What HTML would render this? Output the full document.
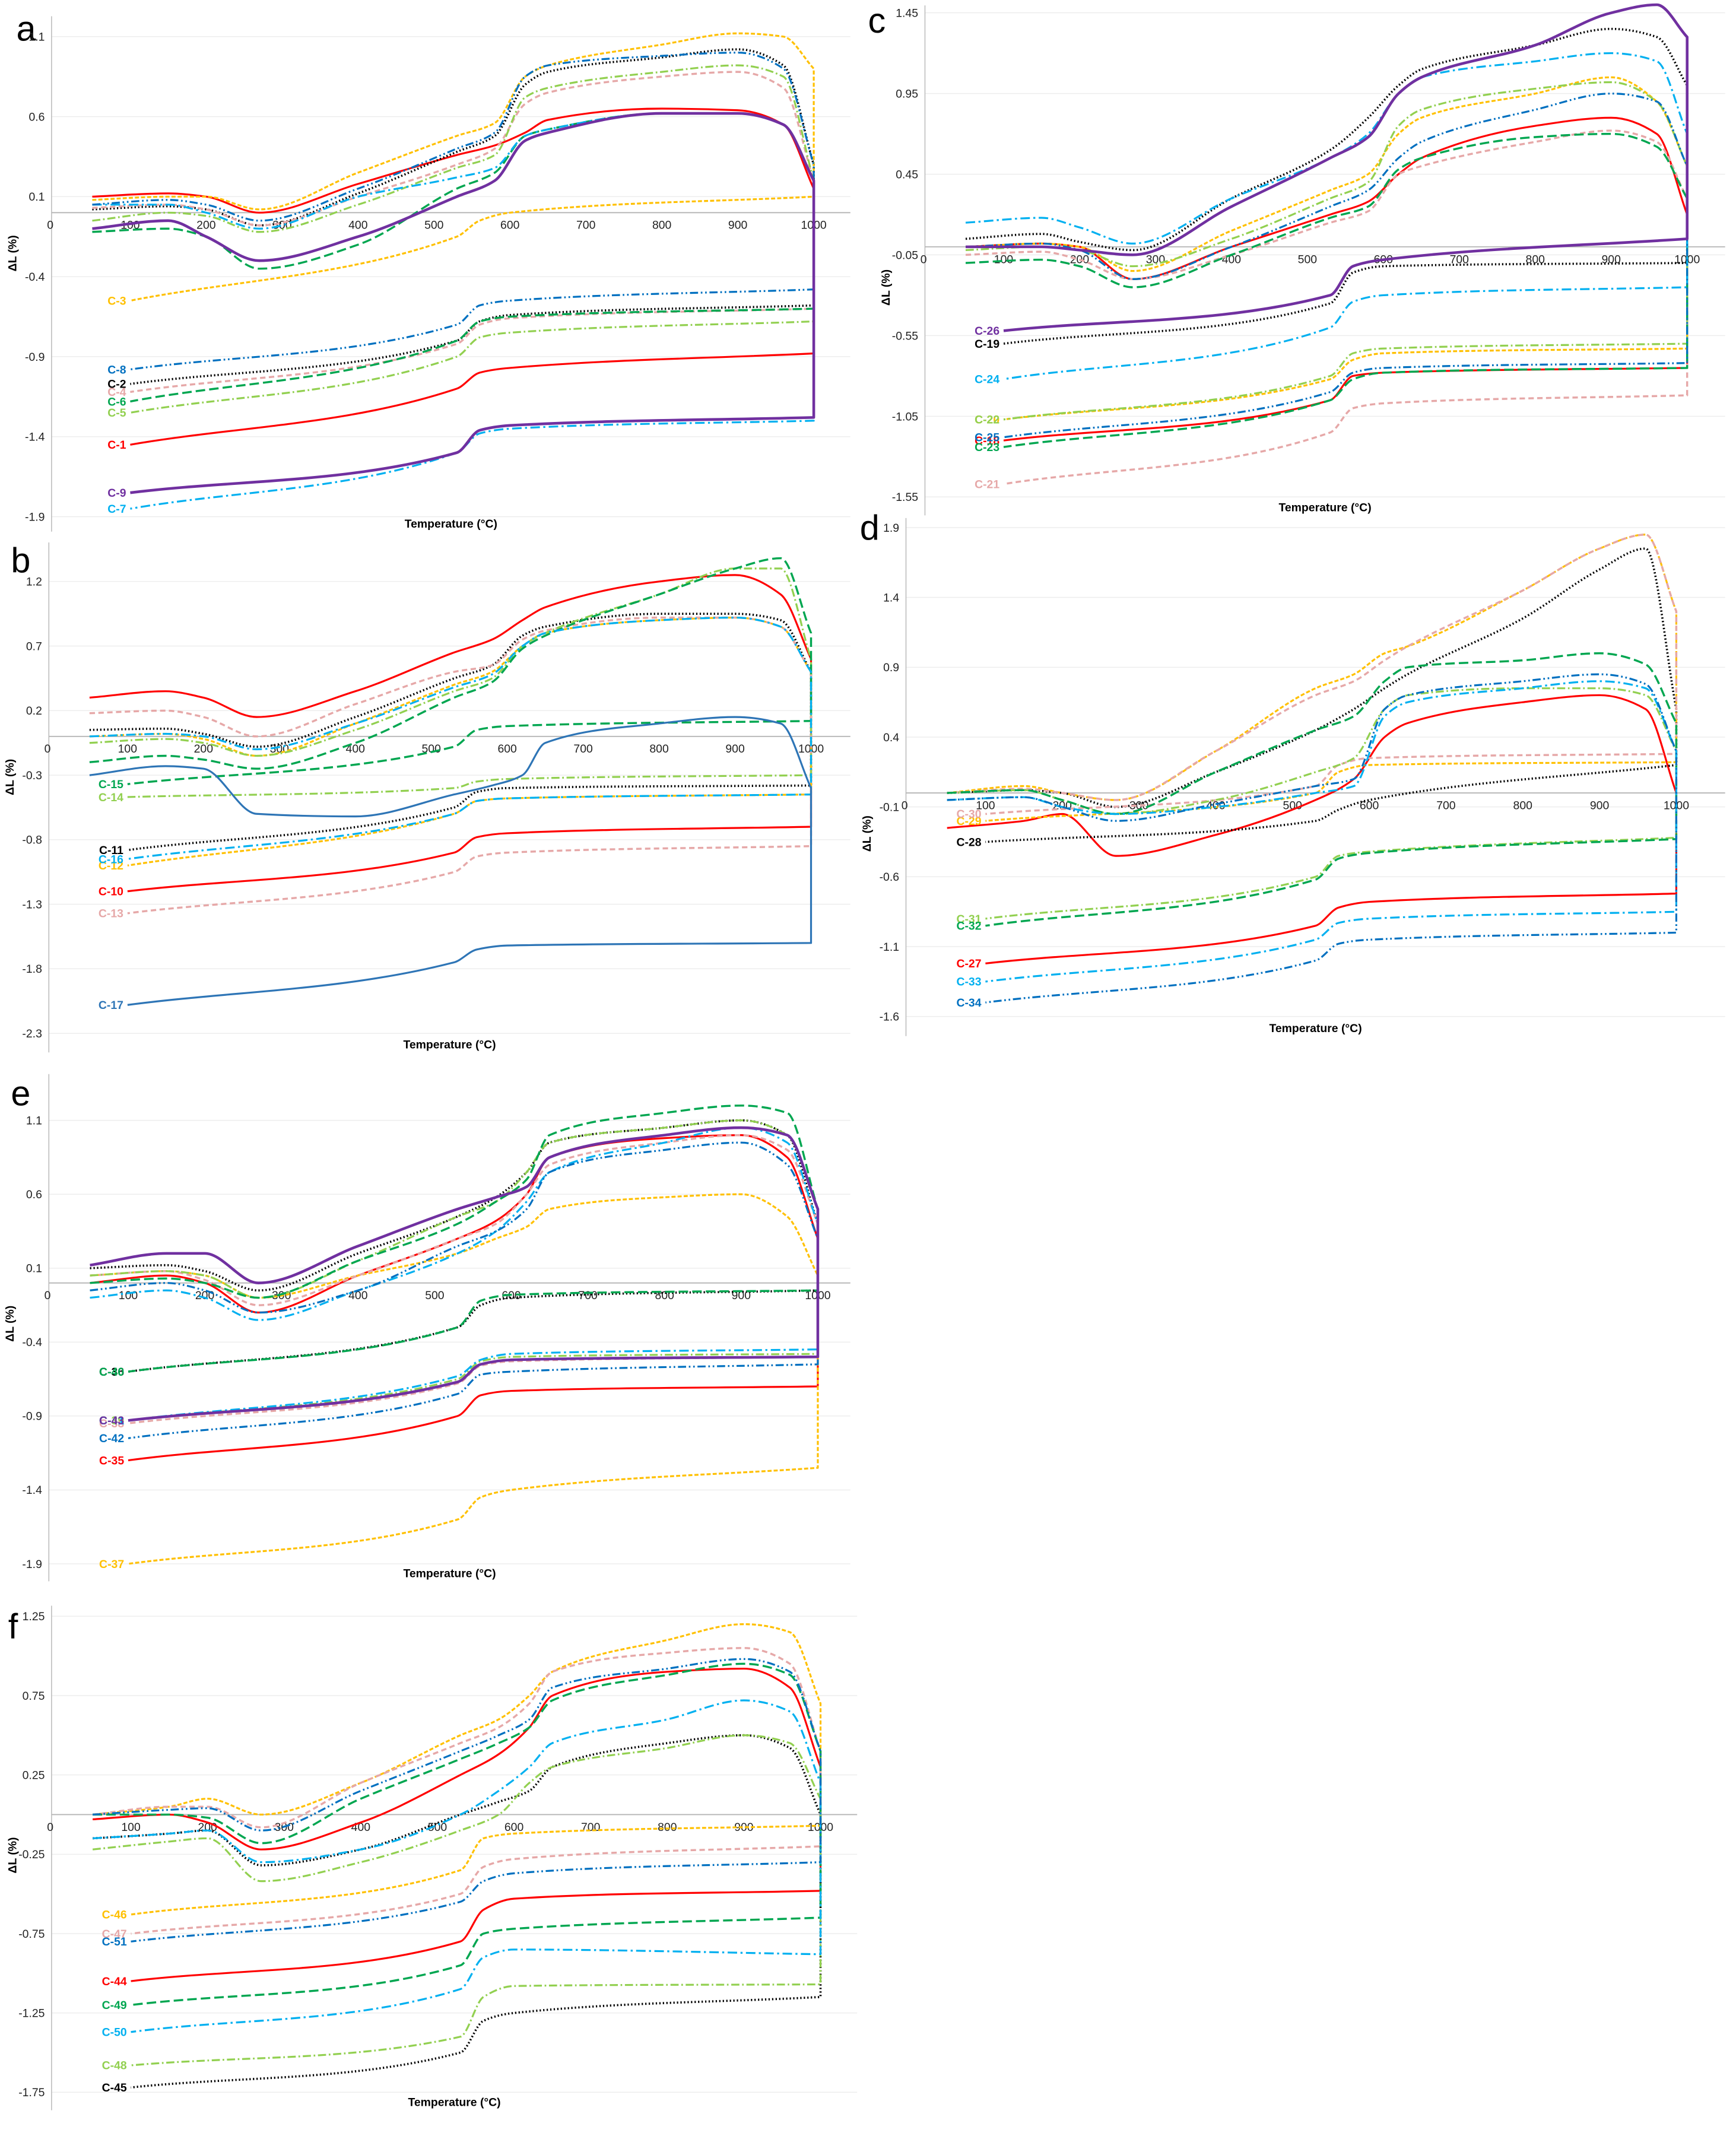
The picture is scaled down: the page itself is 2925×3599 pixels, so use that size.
<!DOCTYPE html>
<html><head><meta charset="utf-8"><style>
html,body{margin:0;padding:0;background:#fff}
svg{display:block}
text{font-family:"Liberation Sans Narrow","Liberation Sans",sans-serif}
</style></head><body>
<svg id="fig" width="2925" height="3599" viewBox="0 0 1280 1575" xmlns="http://www.w3.org/2000/svg"></svg>
<script>
// shared temperature categories
const HEAT_T = [50,150,200,270,400,530,580,620,650,800,900,960,1000];
const COOL_T = [1000,600,560,530,100];

// panel a
const A_names = ["C-1","C-2","C-3","C-4","C-5","C-6","C-7","C-8","C-9"];
const A_heat = [
 [0.1,0.12,0.1,0.0,0.18,0.36,0.42,0.5,0.58,0.65,0.64,0.55,0.15],
 [0.02,0.04,0.02,-0.08,0.12,0.38,0.48,0.8,0.88,0.97,1.02,0.92,0.3],
 [0.08,0.1,0.1,0.02,0.25,0.48,0.56,0.85,0.92,1.05,1.12,1.1,0.9],
 [0.03,0.05,0.02,-0.08,0.1,0.3,0.4,0.68,0.75,0.85,0.88,0.78,0.2],
 [-0.05,0.0,-0.02,-0.12,0.05,0.28,0.36,0.72,0.78,0.88,0.92,0.85,0.2],
 [-0.12,-0.1,-0.15,-0.35,-0.2,0.15,0.25,0.48,0.52,0.62,0.62,0.55,0.2],
 [0.05,0.05,0.0,-0.1,0.1,0.22,0.28,0.48,0.52,0.62,0.62,0.55,0.2],
 [0.05,0.08,0.05,-0.05,0.15,0.4,0.5,0.85,0.92,0.98,1.0,0.9,0.3],
 [-0.1,-0.05,-0.15,-0.3,-0.15,0.1,0.2,0.45,0.5,0.62,0.62,0.55,0.2]];
const A_cool = [
 [-0.88,-0.97,-1.0,-1.1,-1.45],[-0.58,-0.64,-0.68,-0.8,-1.07],[0.1,0.0,-0.05,-0.15,-0.55],
 [-0.6,-0.66,-0.7,-0.82,-1.12],[-0.68,-0.75,-0.78,-0.9,-1.25],[-0.6,-0.65,-0.68,-0.8,-1.18],
 [-1.3,-1.35,-1.38,-1.5,-1.85],[-0.48,-0.55,-0.58,-0.7,-0.98],[-1.28,-1.33,-1.36,-1.5,-1.75]];
const A_ticks = [1.1,0.6,0.1,-0.4,-0.9,-1.4,-1.9];

// panel b
const B_names = ["C-10","C-11","C-12","C-13","C-14","C-15","C-16","C-17"];
const B_heat = [
 [0.3,0.35,0.3,0.15,0.35,0.65,0.75,0.9,1.0,1.2,1.25,1.1,0.6],
 [0.05,0.06,0.02,-0.08,0.15,0.45,0.55,0.78,0.85,0.95,0.95,0.9,0.5],
 [0.0,0.02,-0.02,-0.15,0.1,0.4,0.5,0.7,0.8,0.9,0.92,0.85,0.5],
 [0.18,0.2,0.15,0.0,0.25,0.5,0.55,0.75,0.82,0.92,0.92,0.85,0.5],
 [-0.05,-0.02,-0.05,-0.15,0.05,0.35,0.45,0.7,0.8,1.1,1.3,1.3,0.6],
 [-0.2,-0.15,-0.18,-0.25,-0.05,0.3,0.42,0.68,0.78,1.1,1.3,1.38,0.8],
 [0.0,0.02,0.0,-0.1,0.1,0.38,0.48,0.7,0.8,0.9,0.92,0.85,0.5],
 [-0.3,-0.23,-0.25,-0.6,-0.62,-0.45,-0.38,-0.3,-0.05,0.1,0.15,0.1,-0.4]];
const B_cool = [
 [-0.7,-0.75,-0.78,-0.9,-1.2],[-0.38,-0.4,-0.43,-0.55,-0.88],[-0.45,-0.48,-0.5,-0.6,-1.0],
 [-0.85,-0.9,-0.93,-1.05,-1.37],[-0.3,-0.33,-0.35,-0.4,-0.47],[0.12,0.08,0.05,-0.08,-0.37],
 [-0.45,-0.48,-0.5,-0.6,-0.95],[-1.6,-1.62,-1.65,-1.75,-2.08]];
const B_ticks = [1.2,0.7,0.2,-0.3,-0.8,-1.3,-1.8,-2.3];

// panel c
const C_names = ["C-18","C-19","C-20","C-21","C-22","C-23","C-24","C-25","C-26"];
const C_heat = [
 [0.0,0.02,0.0,-0.2,0.0,0.2,0.28,0.45,0.55,0.75,0.8,0.7,0.2],
 [0.05,0.08,0.03,-0.02,0.3,0.6,0.8,1.0,1.1,1.25,1.35,1.3,1.0],
 [0.0,0.02,0.0,-0.15,0.1,0.35,0.45,0.7,0.8,0.95,1.05,0.9,0.5],
 [-0.05,-0.03,-0.08,-0.2,-0.05,0.15,0.22,0.45,0.5,0.65,0.72,0.65,0.3],
 [-0.02,0.0,-0.02,-0.12,0.05,0.3,0.4,0.75,0.85,0.98,1.02,0.9,0.5],
 [-0.1,-0.08,-0.12,-0.25,-0.05,0.18,0.25,0.48,0.55,0.68,0.7,0.62,0.3],
 [0.15,0.18,0.12,0.02,0.3,0.55,0.7,0.95,1.05,1.15,1.2,1.15,0.7],
 [0.0,0.02,-0.02,-0.2,0.0,0.25,0.35,0.55,0.65,0.85,0.95,0.9,0.5],
 [0.0,0.0,-0.02,-0.05,0.25,0.55,0.68,0.95,1.05,1.25,1.45,1.5,1.3]];
const C_cool = [
 [-0.75,-0.78,-0.8,-0.95,-1.2],[-0.1,-0.12,-0.16,-0.35,-0.6],[-0.63,-0.66,-0.7,-0.82,-1.07],
 [-0.92,-0.97,-1.0,-1.15,-1.47],[-0.6,-0.63,-0.66,-0.8,-1.07],[-0.75,-0.78,-0.82,-0.95,-1.24],
 [-0.25,-0.3,-0.34,-0.5,-0.82],[-0.72,-0.75,-0.78,-0.9,-1.18],[0.05,-0.08,-0.12,-0.3,-0.52]];
const C_ticks = [1.45,0.95,0.45,-0.05,-0.55,-1.05,-1.55];

// panel d
const D_names = ["C-27","C-28","C-29","C-30","C-31","C-32","C-33","C-34"];
const D_heat = [
 [-0.25,-0.2,-0.15,-0.45,-0.3,-0.05,0.1,0.4,0.5,0.65,0.7,0.6,0.0],
 [0.0,0.02,0.0,-0.1,0.15,0.45,0.6,0.75,0.85,1.25,1.6,1.75,0.6],
 [0.0,0.05,0.0,-0.05,0.3,0.75,0.85,1.0,1.05,1.45,1.75,1.85,1.3],
 [0.0,0.03,0.0,-0.05,0.3,0.7,0.8,0.95,1.05,1.45,1.75,1.85,1.3],
 [0.0,0.02,-0.05,-0.15,-0.05,0.15,0.25,0.6,0.7,0.75,0.75,0.7,0.3],
 [0.0,0.02,-0.05,-0.15,0.15,0.45,0.55,0.8,0.9,0.95,1.0,0.92,0.5],
 [-0.05,-0.03,-0.1,-0.15,-0.1,0.0,0.05,0.55,0.65,0.75,0.8,0.75,0.3],
 [-0.05,-0.03,-0.1,-0.2,-0.08,0.05,0.1,0.6,0.7,0.8,0.85,0.78,0.3]];
const D_cool = [
 [-0.72,-0.78,-0.82,-0.95,-1.22],[0.2,-0.05,-0.12,-0.2,-0.35],[0.22,0.2,0.15,0.0,-0.2],
 [0.28,0.25,0.2,0.05,-0.15],[-0.32,-0.42,-0.45,-0.6,-0.9],[-0.33,-0.43,-0.47,-0.62,-0.95],
 [-0.85,-0.9,-0.93,-1.05,-1.35],[-1.0,-1.05,-1.08,-1.2,-1.5]];
const D_ticks = [1.9,1.4,0.9,0.4,-0.1,-0.6,-1.1,-1.6];

// panel e
const E_names = ["C-35","C-36","C-37","C-38","C-39","C-40","C-41","C-42","C-43"];
const E_heat = [
 [0.0,0.05,0.0,-0.2,0.05,0.3,0.42,0.6,0.85,0.98,1.0,0.85,0.3],
 [0.1,0.12,0.08,-0.05,0.2,0.45,0.58,0.75,0.95,1.05,1.1,1.0,0.4],
 [0.05,0.08,0.05,-0.1,0.05,0.2,0.3,0.38,0.5,0.58,0.6,0.45,0.05],
 [0.05,0.08,0.02,-0.15,0.05,0.3,0.4,0.6,0.8,0.95,1.0,0.9,0.4],
 [0.05,0.08,0.05,-0.1,0.15,0.45,0.55,0.75,0.95,1.05,1.1,1.0,0.5],
 [0.0,0.03,0.0,-0.1,0.15,0.4,0.55,0.7,1.0,1.15,1.2,1.15,0.5],
 [-0.1,-0.05,-0.1,-0.25,-0.05,0.2,0.35,0.55,0.75,0.95,1.05,0.95,0.4],
 [-0.05,0.0,-0.05,-0.2,-0.05,0.25,0.35,0.5,0.75,0.9,0.95,0.8,0.3],
 [0.12,0.2,0.2,0.0,0.25,0.5,0.58,0.65,0.85,1.0,1.05,1.0,0.5]];
const E_cool = [
 [-0.7,-0.73,-0.76,-0.9,-1.2],[-0.05,-0.1,-0.15,-0.3,-0.6],[-1.25,-1.4,-1.45,-1.6,-1.9],
 [-0.5,-0.53,-0.56,-0.68,-0.95],[-0.48,-0.5,-0.53,-0.65,-0.93],[-0.05,-0.08,-0.12,-0.3,-0.6],
 [-0.45,-0.48,-0.52,-0.63,-0.93],[-0.55,-0.6,-0.62,-0.75,-1.05],[-0.5,-0.52,-0.55,-0.67,-0.93]];
const E_ticks = [1.1,0.6,0.1,-0.4,-0.9,-1.4,-1.9];

// panel f
const F_names = ["C-44","C-45","C-46","C-47","C-48","C-49","C-50","C-51"];
const F_heat = [
 [-0.03,0.0,-0.05,-0.22,-0.05,0.25,0.38,0.55,0.75,0.9,0.92,0.8,0.3],
 [-0.15,-0.12,-0.1,-0.32,-0.22,0.0,0.08,0.15,0.3,0.45,0.5,0.42,0.0],
 [0.0,0.05,0.1,0.0,0.2,0.5,0.6,0.75,0.9,1.1,1.2,1.15,0.7],
 [0.0,0.05,0.05,-0.08,0.2,0.45,0.55,0.7,0.9,1.02,1.05,0.95,0.4],
 [-0.22,-0.17,-0.15,-0.42,-0.3,-0.1,0.0,0.2,0.3,0.42,0.5,0.45,0.1],
 [0.0,0.0,-0.02,-0.18,0.1,0.35,0.45,0.55,0.72,0.88,0.95,0.88,0.4],
 [-0.15,-0.12,-0.1,-0.3,-0.22,0.0,0.15,0.3,0.45,0.6,0.72,0.65,0.2],
 [0.0,0.03,0.04,-0.1,0.15,0.4,0.5,0.6,0.8,0.92,0.98,0.9,0.4]];
const F_cool = [
 [-0.48,-0.53,-0.6,-0.8,-1.05],[-1.15,-1.25,-1.3,-1.5,-1.72],[-0.07,-0.12,-0.15,-0.35,-0.63],
 [-0.2,-0.28,-0.33,-0.5,-0.75],[-1.07,-1.08,-1.15,-1.4,-1.58],[-0.65,-0.72,-0.75,-0.95,-1.2],
 [-0.88,-0.85,-0.9,-1.1,-1.37],[-0.3,-0.37,-0.42,-0.55,-0.8]];
const F_ticks = [1.25,0.75,0.25,-0.25,-0.75,-1.25,-1.75];

const X_TICKS = [100,200,300,400,500,600,700,800,900,1000];

const STYLES = [
 {c:"#ff0000",d:"",w:1.4},
 {c:"#000000",d:"1,1.6",w:1.6},
 {c:"#ffc000",d:"3,1.5",w:1.4},
 {c:"#e6a8a8",d:"4,2.5",w:1.5},
 {c:"#92d050",d:"6,2,1.2,2",w:1.4},
 {c:"#00a650",d:"7,3",w:1.5},
 {c:"#00b0f0",d:"7,2.5,1.5,2.5",w:1.4},
 {c:"#0070c0",d:"6,2,1.2,2,1.2,2",w:1.4},
 {c:"#7030a0",d:"",w:2}];

const PANELS = [
 {id:"a",names:A_names,heat:A_heat,cool:A_cool,ticks:A_ticks,x0:40,xk:0.56,y0:156.8,yk:118,L:38,R:627,T:12,B:392,lx:12,ly:30},
 {id:"b",names:B_names,heat:B_heat,cool:B_cool,ticks:B_ticks,x0:38,xk:0.56,y0:543,yk:95.2,L:36,R:627,T:400,B:776,lx:8,ly:422},
 {id:"c",names:C_names,heat:C_heat,cool:C_cool,ticks:C_ticks,x0:684,xk:0.56,y0:182,yk:119,L:682,R:1272,T:4,B:380,lx:640,ly:24},
 {id:"d",names:D_names,heat:D_heat,cool:D_cool,ticks:D_ticks,x0:670,xk:0.566,y0:584.7,yk:103,L:668,R:1272,T:382,B:764,lx:634,ly:398},
 {id:"e",names:E_names,heat:E_heat,cool:E_cool,ticks:E_ticks,x0:38,xk:0.565,y0:946,yk:109,L:36,R:627,T:792,B:1166,lx:8,ly:815},
 {id:"f",names:F_names,heat:F_heat,cool:F_cool,ticks:F_ticks,x0:40,xk:0.565,y0:1338,yk:117,L:38,R:632,T:1184,B:1556,lx:6,ly:1208}];

const NS="http://www.w3.org/2000/svg";
const svg=document.getElementById('fig');
function mk(tag,attrs,parent){const e=document.createElementNS(NS,tag);for(const k in attrs)e.setAttribute(k,attrs[k]);(parent||svg).appendChild(e);return e;}
// monotone cubic (Fritsch-Carlson) along x
function monotone(pts,cmd){
 const n=pts.length;const dx=[],dy=[],m=[];
 for(let i=0;i<n-1;i++){dx.push(pts[i+1][0]-pts[i][0]);dy.push(pts[i+1][1]-pts[i][1]);m.push(dy[i]/dx[i]);}
 const t=[m[0]];
 for(let i=1;i<n-1;i++){t.push(m[i-1]*m[i]<=0?0:(3*(dx[i-1]+dx[i]))/((2*dx[i]+dx[i-1])/m[i-1]+(dx[i]+2*dx[i-1])/m[i]));}
 t.push(m[n-2]);
 let d=cmd+pts[0][0].toFixed(1)+","+pts[0][1].toFixed(1);
 for(let i=0;i<n-1;i++){
  const h=dx[i]/3;
  d+=" C"+(pts[i][0]+h).toFixed(1)+","+(pts[i][1]+h*t[i]).toFixed(1)+" "+(pts[i+1][0]-h).toFixed(1)+","+(pts[i+1][1]-h*t[i+1]).toFixed(1)+" "+pts[i+1][0].toFixed(1)+","+pts[i+1][1].toFixed(1);
 }
 return d;
}

PANELS.forEach(P=>{
 const xs=t=>P.x0+t*P.xk, ys=v=>P.y0-v*P.yk;
 const g=mk('g',{});
 
 
 const letter=mk('text',{x:P.lx,y:P.ly,'font-size':26,fill:'#000','font-family':'Liberation Sans'},g);
 letter.textContent=P.id;
 
 
 P.ticks.forEach(v=>{
  const gl=mk('line',{x1:P.L,x2:P.R,y1:ys(v),y2:ys(v),stroke:'#ececec','stroke-width':0.6},g);
  
  
  const t=mk('text',{x:P.L-5,y:ys(v)+3,'font-size':8.5,'text-anchor':'end',fill:'#222'},g);
  t.textContent=String(v);
  
  
 });
 const ya=mk('line',{x1:P.L,x2:P.L,y1:P.T,y2:P.B,stroke:'#bdbdbd','stroke-width':0.7},g);
 
 
 const xa=mk('line',{x1:P.L,x2:P.R,y1:ys(0),y2:ys(0),stroke:'#b5b5b5','stroke-width':0.8},g);
 
 
 const z=mk('text',{x:xs(0)-3,y:ys(0)+12,'font-size':8.5,'text-anchor':'middle',fill:'#222'},g);
 z.textContent="0";
 
 
 X_TICKS.forEach(t=>{
  const tl=mk('text',{x:xs(t),y:ys(0)+12,'font-size':8.5,'text-anchor':'middle',fill:'#222'},g);
  tl.textContent=String(t);
  
  
 });
 const xt=mk('text',{x:(P.L+P.R)/2,y:P.B-3,'font-size':8.5,'font-weight':'bold','text-anchor':'middle',fill:'#000'},g);
 xt.textContent="Temperature (°C)";
 
 
 const ymid=ys(0)+30;
 const yt=mk('text',{x:0,y:0,'font-size':8.5,'font-weight':'bold','text-anchor':'middle',fill:'#000',transform:'translate('+(P.L-26)+','+ymid+') rotate(-90)'},g);
 yt.textContent="ΔL (%)";
 
 
 P.names.forEach((nm,i)=>{
  const st=(P.id==="b"&&i===7)?{c:"#2e75b6",d:"",w:1.4}:STYLES[i];
  const hp=HEAT_T.map((t,j)=>[xs(t),ys(P.heat[i][j])]);
  const cp=COOL_T.map((t,j)=>[xs(t),ys(P.cool[i][j])]);
  const dPath=monotone(hp,"M")+" "+monotone(cp,"L");
  const p=mk('path',{d:dPath,fill:'none',stroke:st.c,'stroke-width':st.w,'stroke-dasharray':st.d,'stroke-linejoin':'round'},g);
  
  
  const last=cp[cp.length-1];
  const lb=mk('text',{x:last[0]-3,y:last[1]+3,'font-size':8.5,'font-weight':'bold','text-anchor':'end',fill:st.c},g);
  lb.textContent=nm;
  
  
 });
});
</script>
</body></html>
